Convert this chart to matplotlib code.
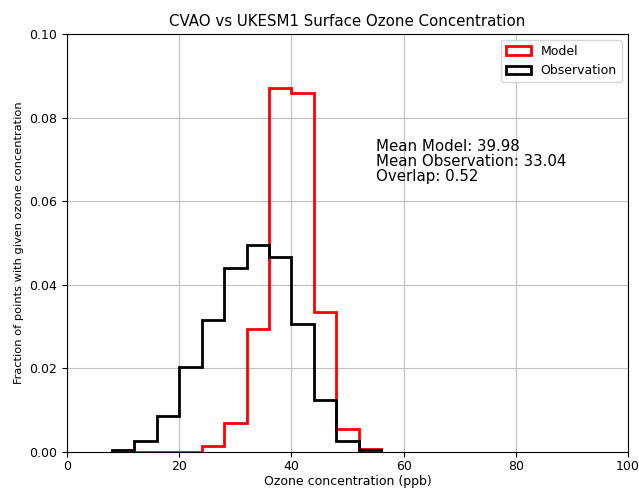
import numpy as np
import matplotlib
matplotlib.use("Agg")
import matplotlib.pyplot as plt

# bin edges (ppb) and fraction of points per bin
model_edges = [12, 16, 20, 24, 28, 32, 36, 40, 44, 48, 52, 56]
model_frac = [0.0001, 0.0001, 0.0001, 0.0014, 0.0069, 0.0294, 0.0870, 0.0858, 0.0334, 0.0055, 0.0006]

obs_edges = [8, 12, 16, 20, 24, 28, 32, 36, 40, 44, 48, 52, 56]
obs_frac = [0.0004, 0.0026, 0.0086, 0.0204, 0.0316, 0.0441, 0.0495, 0.0466, 0.0306, 0.0124, 0.0026, 0.0005]

mean_model = 39.98
mean_obs = 33.04
overlap = 0.52

plt.rcParams['font.size'] = 9

fig = plt.figure(figsize=(6.39, 4.9), dpi=100)
ax = fig.add_axes([67 / 639, 1 - 452 / 490, 561 / 639, 418 / 490])

m_centres = (np.array(model_edges[:-1]) + np.array(model_edges[1:])) / 2
o_centres = (np.array(obs_edges[:-1]) + np.array(obs_edges[1:])) / 2
ax.hist(m_centres, bins=model_edges, weights=model_frac, histtype='step',
        color='red', linewidth=2, label='Model')
ax.hist(o_centres, bins=obs_edges, weights=obs_frac, histtype='step',
        color='black', linewidth=2, label='Observation')

ax.set_xlim(0, 100)
ax.set_ylim(0, 0.1)
ax.grid(True, color='#c0c0c0', linewidth=0.8)
ax.set_axisbelow(True)
ax.tick_params(axis='x', pad=2.5)

ax.set_title('CVAO vs UKESM1 Surface Ozone Concentration', fontsize=10.8, pad=6)
ax.set_xlabel('Ozone concentration (ppb)', labelpad=1)
ax.set_ylabel('Fraction of points with given ozone concentration', fontsize=8.2)
ax.legend(loc='upper right', fontsize=9)

ax.text(55, 0.064, f'Mean Model: {mean_model:.2f}\nMean Observation: {mean_obs:.2f}\nOverlap: {overlap:.2f}',
        fontsize=10.8, va='bottom', linespacing=1.0)

fig.savefig('out.png', dpi=100)
